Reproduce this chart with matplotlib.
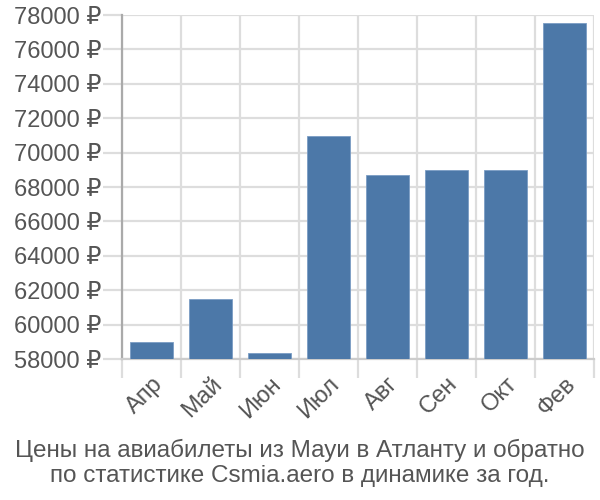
import numpy as np
import matplotlib
matplotlib.use('Agg')
import matplotlib.pyplot as plt

plt.rcParams['font.family'] = ['Liberation Sans', 'DejaVu Sans']

months = ['Апр', 'Май', 'Июн', 'Июл', 'Авг', 'Сен', 'Окт', 'Фев']
prices = [59000, 61500, 58350, 70950, 68720, 68990, 68990, 77520]
yticks = list(range(58000, 78001, 2000))
title = 'Цены на авиабилеты из Мауи в Атланту и обратно\nпо статистике Csmia.aero в динамике за год.'

text_color = '#555555'
grid_color = '#dddddd'
bar_color = '#4c78a8'

fig = plt.figure(figsize=(6, 5), dpi=100)
ax = fig.add_axes([0.2033, 0.282, 0.7867, 0.688])

x = np.arange(len(months))
ax.bar(x, prices, width=0.72, color=bar_color, edgecolor='#7a9cc4', linewidth=0.6, zorder=3)

ax.set_xlim(-0.5, len(months) - 0.5)
ax.set_ylim(58000, 78000)

# horizontal grid + left tick marks
ax.set_yticks(yticks)
ax.set_yticklabels([f'{v} ₽' for v in yticks])
ax.yaxis.grid(True, color=grid_color, linewidth=1.6, zorder=0)
ax.tick_params(axis='y', length=14, width=1.6, color=grid_color,
               labelsize=17, labelcolor=text_color, pad=1)

# vertical grid at category borders
ax.set_xticks(np.arange(-0.5, len(months), 1.0), minor=True)
ax.xaxis.grid(True, which='minor', color=grid_color, linewidth=1.6, zorder=0)
ax.tick_params(axis='x', which='minor', length=14, width=1.6, color=grid_color)
ax.set_xticks(x)
ax.set_xticklabels(months, rotation=45, ha='right', va='top', rotation_mode='anchor')
ax.tick_params(axis='x', which='major', length=0, labelsize=17,
               labelcolor=text_color, pad=10)

for s in ['top', 'right']:
    ax.spines[s].set_visible(False)
ax.spines['left'].set_color('#aaaaaa')
ax.spines['left'].set_linewidth(1.6)
ax.spines['bottom'].set_color('#cccccc')
ax.spines['bottom'].set_linewidth(1.6)

fig.text(0.5, 0.026, title, ha='center', va='bottom', fontsize=17.5,
         color=text_color, linespacing=1.2)

fig.savefig('out.png', dpi=100)
